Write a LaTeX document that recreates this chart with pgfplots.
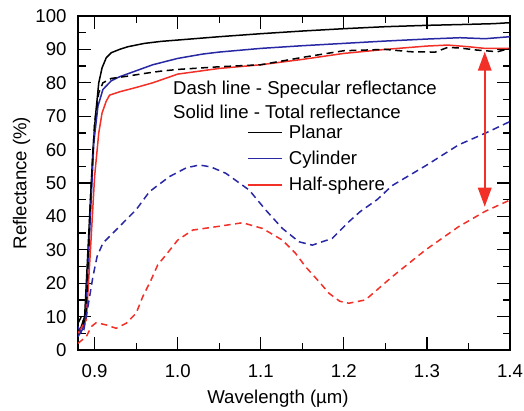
\documentclass[border=0pt]{standalone}
\usepackage{fontspec}
\setmainfont{Liberation Sans}
\usepackage{pgfplots}
\pgfplotsset{compat=1.18}
\usetikzlibrary{arrows.meta}
\definecolor{cblue}{RGB}{40,40,165}
\definecolor{cred}{RGB}{242,48,40}
\newcommand{\chartfont}{\fontsize{18.6bp}{22bp}\selectfont}
\begin{document}
\begin{tikzpicture}
\path[use as bounding box] (-78bp,-61bp) rectangle (446bp,350bp);
\begin{axis}[
  at={(0,0)}, anchor=south west,
  scale only axis, width=432bp, height=334bp,
  xmin=0.88, xmax=1.4, ymin=0, ymax=100,
  xtick={0.9,1.0,1.1,1.2,1.3,1.4},
  ytick={0,10,...,100},
  minor x tick num=1, minor y tick num=1,
  tick align=inside,
  major tick length=13bp, minor tick length=7.5bp,
  every tick/.append style={black, line width=1.3bp},
  axis line style={line width=1.6bp},
  font=\chartfont,
  tick label style={font=\chartfont},
  /pgf/number format/assume math mode=true,
  xticklabel style={/pgf/number format/.cd, fixed, fixed zerofill, precision=1, /tikz/.cd, yshift=-11bp},
  yticklabel style={/pgf/number format/.cd, fixed, precision=0, /tikz/.cd, xshift=-8bp},
  xlabel={Wavelength (µm)},
  ylabel={Reflectance (\%)},
  xlabel style={at={(axis description cs:0.463,-0.160)}, anchor=base},
  ylabel style={at={(axis description cs:-0.1194,0.5)}, anchor=base},
  legend style={at={(axis description cs:0.3915,0.6935)}, anchor=north west, draw=none, fill=none,
    inner sep=0pt, row sep=3bp, font=\chartfont,
    cells={anchor=west}},
  legend cell align=left,
  legend image code/.code={\draw[#1, line width=1.6bp] (0bp,0bp) -- (34bp,0bp); \path (38bp,-4bp) (38bp,13bp);},
  every axis plot/.append style={line width=1.5bp},
]
% Planar total
\addplot[black] coordinates {
(0.880,5) (0.884,7) (0.888,10) (0.893,35) (0.898,60) (0.901,70) (0.905,80) (0.909,84.5)
(0.914,87.5) (0.920,89) (0.930,90) (0.940,90.8) (0.960,91.8) (0.980,92.4) (1.000,92.8)
(1.050,93.8) (1.100,94.7) (1.150,95.5) (1.200,96.2) (1.250,96.8) (1.300,97.2) (1.350,97.5)
(1.380,97.7) (1.400,98.0)};
\addlegendentry{Planar}
% Cylinder total
\addplot[cblue] coordinates {
(0.880,4) (0.885,6) (0.889,9) (0.894,35) (0.899,62) (0.904,73) (0.910,78) (0.920,80.6)
(0.930,81.8) (0.950,83.6) (0.970,85.4) (1.000,87.3) (1.030,88.6) (1.050,89.2) (1.100,90.3)
(1.150,91.1) (1.200,91.8) (1.250,92.5) (1.300,93.1) (1.340,93.5) (1.370,93.2) (1.400,93.8)};
\addlegendentry{Cylinder}
% Half-sphere total
\addplot[cred] coordinates {
(0.880,5) (0.885,7) (0.890,9) (0.895,30) (0.900,52) (0.905,65) (0.909,71) (0.914,74.5)
(0.918,76.3) (0.930,77.3) (0.950,78.6) (0.970,80) (1.000,82.6) (1.050,84.3) (1.100,85.4)
(1.150,87) (1.200,88.8) (1.250,90) (1.300,91) (1.325,91.3) (1.350,90.8) (1.370,90.3) (1.400,90.3)};
\addlegendentry{Half-sphere}
% Planar specular
\addplot[black, dash pattern=on 7bp off 4.5bp, forget plot] coordinates {
(0.880,8) (0.884,10) (0.887,8) (0.890,12) (0.895,45) (0.900,68) (0.905,77) (0.910,80)
(0.920,81.3) (0.940,82) (0.960,82.8) (0.980,83.5) (1.000,84) (1.050,84.8) (1.100,85.4)
(1.150,87.6) (1.200,89.6) (1.250,90) (1.280,89.3) (1.310,89.2) (1.325,90.6) (1.340,90.4)
(1.360,89.8) (1.385,89.3) (1.400,90.3)};
% Cylinder specular
\addplot[cblue, dash pattern=on 7bp off 4.5bp, forget plot] coordinates {
(0.880,7) (0.884,5) (0.887,6) (0.892,13) (0.898,22) (0.903,28) (0.910,32) (0.920,34.5)
(0.930,37) (0.950,42) (0.966,47.4) (0.990,51.9) (1.010,54.5) (1.026,55.4) (1.040,54.8)
(1.058,52.9) (1.086,47.9) (1.106,41.9) (1.126,36.4) (1.146,32.4) (1.162,31.4) (1.186,33.4)
(1.206,38.4) (1.220,41.5) (1.240,45) (1.258,49.2) (1.300,55.4) (1.338,61.4) (1.371,65) (1.400,68.4)};
% Half-sphere specular
\addplot[cred, dash pattern=on 6.5bp off 4.5bp, forget plot] coordinates {
(0.880,2) (0.890,4) (0.896,7) (0.902,8.2) (0.914,7.5) (0.926,6.5) (0.938,8) (0.950,11)
(0.958,16) (0.968,21) (0.976,25.5) (0.986,28.5) (1.000,32.9) (1.018,35.9) (1.046,36.9)
(1.078,38.1) (1.102,36.4) (1.126,32.9) (1.142,28.9) (1.154,24.9) (1.170,20.5) (1.182,17)
(1.195,14.6) (1.206,14) (1.226,15) (1.258,21.9) (1.298,29.9) (1.338,36.9) (1.370,41.5) (1.400,44.9)};
\node[anchor=base west, inner sep=0pt, font=\chartfont] at (axis description cs:0.22,0.765) {Dash line - Specular reflectance};
\node[anchor=base west, inner sep=0pt, font=\chartfont] at (axis description cs:0.22,0.694) {Solid line - Total reflectance};
\draw[cred, line width=1.8bp, {Triangle[length=19bp,width=13.5bp]}-{Triangle[length=19bp,width=13.5bp]}] (axis cs:1.3696,42.9) -- (axis cs:1.3696,89.3);
\end{axis}
\end{tikzpicture}
\end{document}
